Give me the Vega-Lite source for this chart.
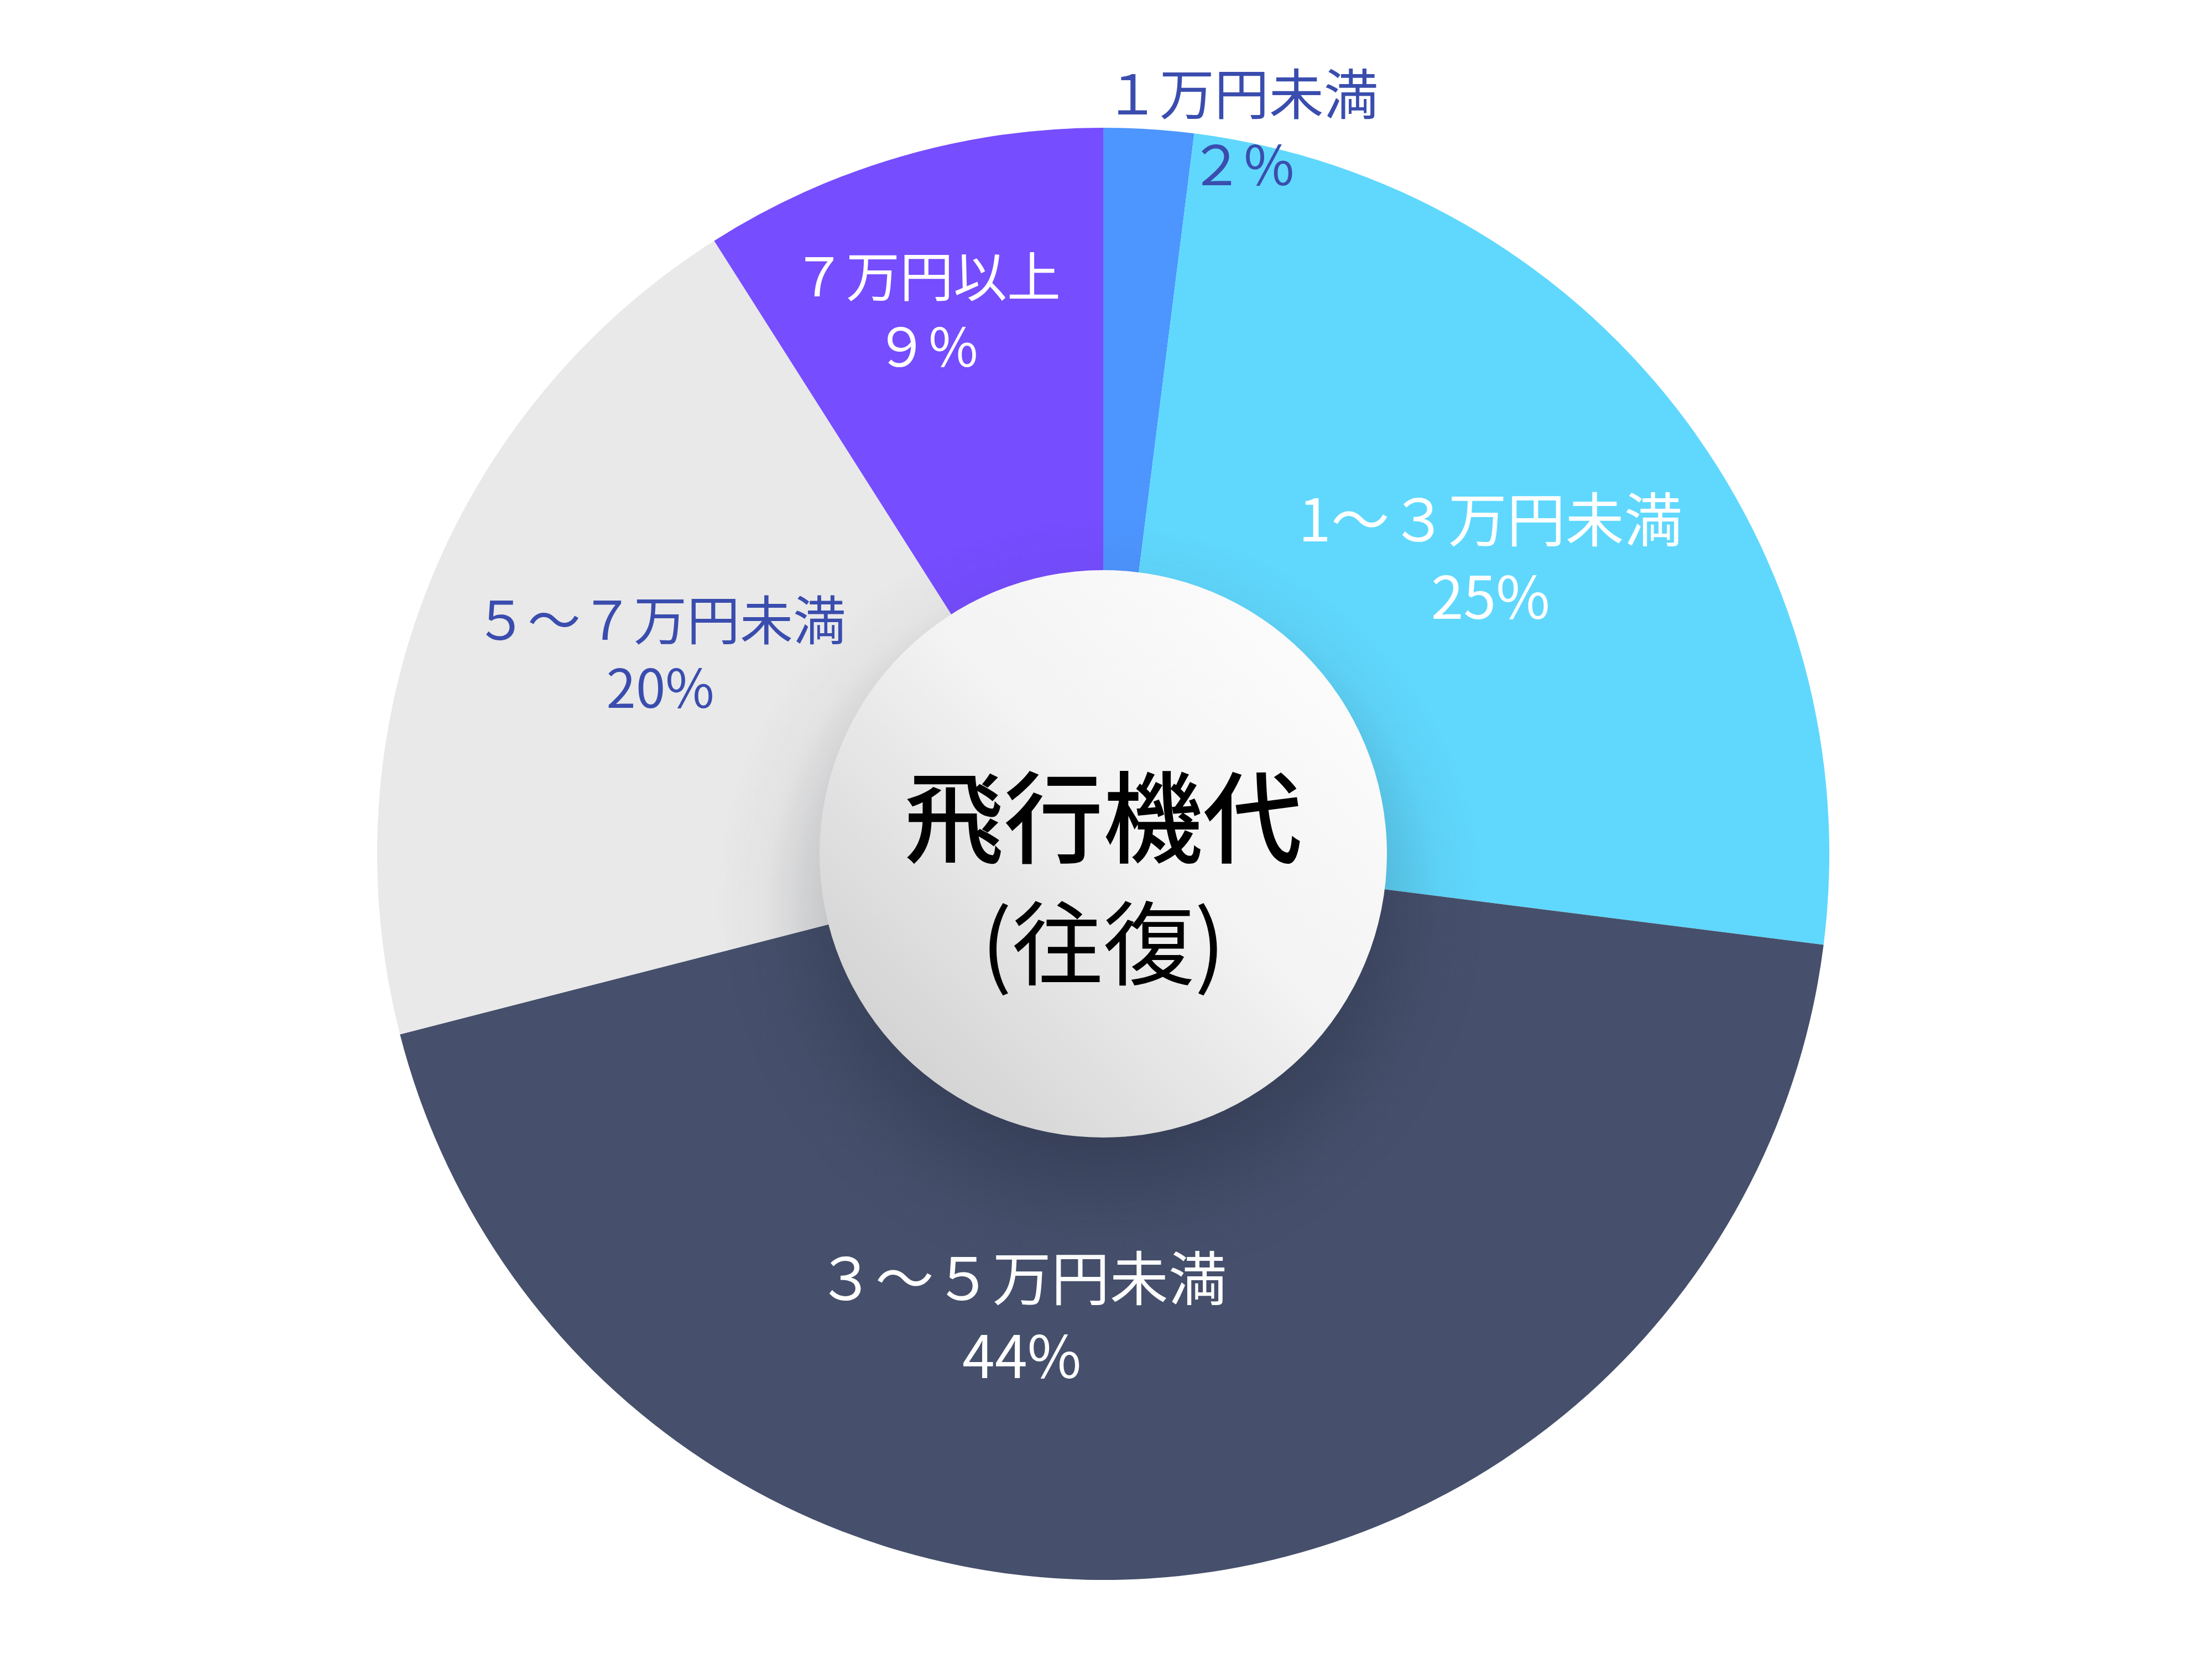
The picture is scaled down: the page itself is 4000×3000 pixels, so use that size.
{
  "$schema": "https://vega.github.io/schema/vega-lite/v6.json",
  "width": 4000,
  "height": 3000,
  "autosize": {"type": "fit", "contains": "padding"},
  "padding": {"top": 88, "left": 0, "right": 10, "bottom": 0},
  "background": "white",
  "config": {"view": {"stroke": null}, "font": "Noto Sans CJK JP"},
  "data": {
    "values": [
      {"category": "１万円未満", "label": ["１万円未満", "２%"], "share": 2, "rank": 1},
      {"category": "1～３万円未満", "label": ["1～３万円未満", "25%"], "share": 25, "rank": 2},
      {"category": "３～５万円未満", "label": ["３～５万円未満", "44%"], "share": 44, "rank": 3},
      {"category": "５～７万円未満", "label": ["５～７万円未満", "20%"], "share": 20, "rank": 4},
      {"category": "７万円以上", "label": ["７万円以上", "９%"], "share": 9, "rank": 5}
    ]
  },
  "layer": [
    {
      "encoding": {
        "theta": {"field": "share", "type": "quantitative", "stack": true},
        "order": {"field": "rank", "type": "quantitative"}
      },
      "layer": [
        {
          "mark": {"type": "arc", "radius": 1313, "stroke": null},
          "encoding": {
            "color": {
              "field": "category",
              "type": "nominal",
              "scale": {
                "domain": ["１万円未満", "1～３万円未満", "３～５万円未満", "５～７万円未満", "７万円以上"],
                "range": ["#4D95FF", "#60D8FD", "#46506C", "#E9E9E9", "#764DFF"]
              },
              "legend": null
            }
          }
        },
        {
          "mark": {"type": "text", "radius": 1310, "dx": 168, "dy": -60, "fontSize": 99, "lineHeight": 128, "align": "center", "baseline": "middle", "font": "Noto Sans CJK JP"},
          "encoding": {
            "text": {"field": "label"},
            "color": {"value": "#3A4DAE"},
            "opacity": {"condition": {"test": "datum.category === '１万円未満'", "value": 1}, "value": 0}
          }
        },
        {
          "mark": {"type": "text", "radius": 1020, "dx": -35, "dy": -58, "fontSize": 97, "lineHeight": 127, "align": "center", "baseline": "middle", "font": "Noto Sans CJK JP"},
          "encoding": {
            "text": {"field": "label"},
            "color": {"value": "#ffffff"},
            "opacity": {"condition": {"test": "datum.category === '７万円以上'", "value": 1}, "value": 0}
          }
        },
        {
          "mark": {"type": "text", "radius": 880, "dx": 5, "dy": -58, "fontSize": 106, "lineHeight": 140, "align": "center", "baseline": "middle", "font": "Noto Sans CJK JP"},
          "encoding": {
            "text": {"field": "label"},
            "color": {"value": "#ffffff"},
            "opacity": {"condition": {"test": "datum.category === '1～３万円未満'", "value": 1}, "value": 0}
          }
        },
        {
          "mark": {"type": "text", "radius": 870, "dx": 8, "dy": -96, "fontSize": 96, "lineHeight": 123, "align": "center", "baseline": "middle", "font": "Noto Sans CJK JP"},
          "encoding": {
            "text": {"field": "label"},
            "color": {"value": "#3A4DAE"},
            "opacity": {"condition": {"test": "datum.category === '５～７万円未満'", "value": 1}, "value": 0}
          }
        },
        {
          "mark": {"type": "text", "radius": 840, "dx": -200, "dy": -63, "fontSize": 106, "lineHeight": 141, "align": "center", "baseline": "middle", "font": "Noto Sans CJK JP"},
          "encoding": {
            "text": {"field": "label"},
            "color": {"value": "#ffffff"},
            "opacity": {"condition": {"test": "datum.category === '３～５万円未満'", "value": 1}, "value": 0}
          }
        }
      ]
    },
    {
      "data": {"values": [{"title": "飛行機代", "sub": "(往復)"}]},
      "layer": [
        {
          "mark": {
            "type": "arc", "theta": 0, "theta2": 6.2832, "radius": 780, "stroke": null,
            "fill": {
              "gradient": "radial", "x1": 0.5, "y1": 0.56, "r1": 0, "x2": 0.5, "y2": 0.56, "r2": 0.45,
              "stops": [
                {"offset": 0, "color": "rgba(10,15,30,0.25)"},
                {"offset": 0.6, "color": "rgba(10,15,30,0.24)"},
                {"offset": 0.75, "color": "rgba(10,15,30,0.12)"},
                {"offset": 0.87, "color": "rgba(10,15,30,0.03)"},
                {"offset": 1, "color": "rgba(10,15,30,0)"}
              ]
            }
          },
          "encoding": {}
        },
        {
          "mark": {
            "type": "arc", "theta": 0, "theta2": 6.2832, "radius": 513, "stroke": null,
            "fill": {
              "gradient": "linear", "x1": 1, "y1": 0, "x2": 0, "y2": 1,
              "stops": [
                {"offset": 0, "color": "#ffffff"},
                {"offset": 0.45, "color": "#f3f3f3"},
                {"offset": 1, "color": "#c9c9c9"}
              ]
            }
          },
          "encoding": {}
        },
        {
          "mark": {"type": "text", "dy": -52, "fontSize": 180, "fontWeight": 500, "align": "center", "baseline": "middle", "font": "Noto Sans CJK JP", "color": "#000000"},
          "encoding": {"text": {"field": "title"}}
        },
        {
          "mark": {"type": "text", "dy": 174, "fontSize": 165, "fontWeight": "normal", "align": "center", "baseline": "middle", "font": "Noto Sans CJK JP", "color": "#000000"},
          "encoding": {"text": {"field": "sub"}}
        }
      ]
    }
  ]
}
